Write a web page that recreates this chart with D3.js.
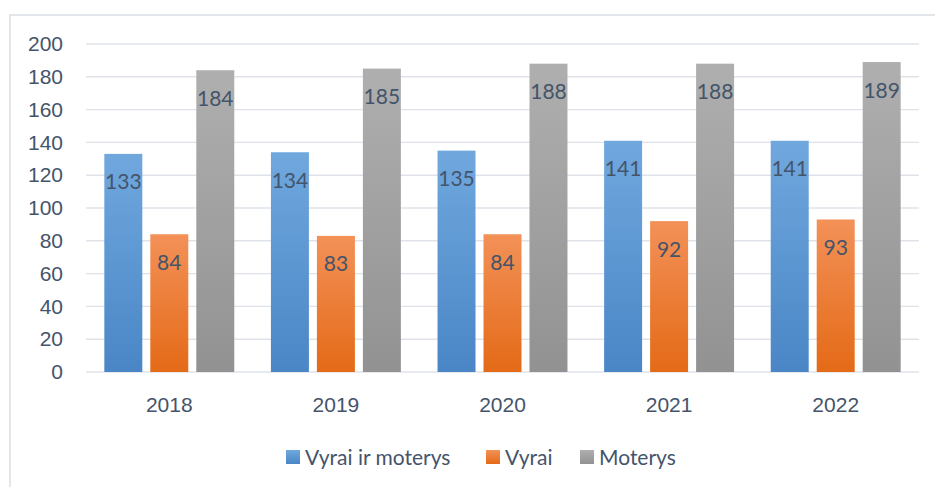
<!DOCTYPE html>
<html>
<head>
<meta charset="utf-8">
<script src="https://cdn.jsdelivr.net/npm/d3@7"></script>
<style>
  body { margin: 0; background: #fff; }
  svg { display: block; font-family: Lato, "Open Sans", sans-serif; }
</style>
</head>
<body>
<div id="chart"></div>
<script>
const years = ["2018", "2019", "2020", "2021", "2022"]
const seriesNames = ["Vyrai ir moterys", "Vyrai", "Moterys"]
const both = [133, 134, 135, 141, 141]
const men = [84, 83, 84, 92, 93]
const women = [184, 185, 188, 188, 189]
const yTicks = [0, 20, 40, 60, 80, 100, 120, 140, 160, 180, 200]

const seriesValues = [both, men, women]
const colors = [
  {top: "#70a8de", bottom: "#4a86c6"},
  {top: "#f39158", bottom: "#e46a17"},
  {top: "#afafaf", bottom: "#929292"}
]
const textColor = "#44546a"
const fontSize = "21px"

const width = 935, height = 487
const margin = {top: 44, left: 86, right: 16, bottom: 115}
const plotW = width - margin.left - margin.right
const plotH = height - margin.top - margin.bottom

const svg = d3.select("#chart").append("svg")
  .attr("width", width)
  .attr("height", height)

// gradients
const defs = svg.append("defs")
colors.forEach((c, i) => {
  const g = defs.append("linearGradient")
    .attr("id", "grad" + i)
    .attr("x1", "0%").attr("x2", "0%")
    .attr("y1", "0%").attr("y2", "100%")
  g.append("stop").attr("offset", "0%").attr("stop-color", c.top)
  g.append("stop").attr("offset", "100%").attr("stop-color", c.bottom)
})

// outer frame
svg.append("rect")
  .attr("x", 10).attr("y", 15)
  .attr("width", 940).attr("height", 490)
  .attr("fill", "none")
  .attr("stroke", "#d9dde4")
  .attr("stroke-width", 1.5)

const x0 = d3.scaleBand()
  .domain(years)
  .range([margin.left, margin.left + plotW])
  .paddingInner(0.22)
  .paddingOuter(0.11)

const x1 = d3.scaleBand()
  .domain(d3.range(seriesNames.length))
  .range([0, x0.bandwidth()])
  .paddingInner(0.174)

const y = d3.scaleLinear()
  .domain([0, 200])
  .range([margin.top + plotH, margin.top])

// gridlines
svg.append("g")
  .selectAll("line")
  .data(yTicks)
  .join("line")
    .attr("x1", margin.left)
    .attr("x2", margin.left + plotW)
    .attr("y1", d => y(d))
    .attr("y2", d => y(d))
    .attr("stroke", "#dfe3e9")
    .attr("stroke-width", 1.4)

// y axis labels
const yAxis = svg.append("g")
  .attr("transform", `translate(${margin.left},0)`)
  .call(d3.axisLeft(y).tickValues(yTicks).tickSize(0).tickPadding(23))
yAxis.select(".domain").remove()
yAxis.selectAll("text")
  .attr("fill", textColor)
  .style("font-size", fontSize)

// x axis labels
const xAxis = svg.append("g")
  .attr("transform", `translate(0,${margin.top + plotH})`)
  .call(d3.axisBottom(x0).tickSize(0).tickPadding(25))
xAxis.select(".domain").remove()
xAxis.selectAll("text")
  .attr("fill", textColor)
  .style("font-size", fontSize)

// bars
const groups = svg.append("g")
  .selectAll("g")
  .data(years)
  .join("g")
    .attr("transform", d => `translate(${x0(d)},0)`)

const cells = groups.selectAll("g")
  .data((d, yi) => seriesValues.map((vals, si) => ({si, value: vals[yi]})))
  .join("g")

cells.append("rect")
  .attr("x", d => x1(d.si))
  .attr("y", d => y(d.value))
  .attr("width", x1.bandwidth())
  .attr("height", d => y(0) - y(d.value))
  .attr("fill", d => `url(#grad${d.si})`)

cells.append("text")
  .attr("x", d => x1(d.si) + x1.bandwidth() / 2)
  .attr("y", d => y(d.value) + 35.5)
  .attr("text-anchor", "middle")
  .attr("fill", textColor)
  .style("font-size", fontSize)
  .text(d => d.value)

// legend
const legendX = [286, 486, 580]
const legend = svg.append("g")
  .selectAll("g")
  .data(seriesNames)
  .join("g")
    .attr("transform", (d, i) => `translate(${legendX[i]},450)`)

legend.append("rect")
  .attr("width", 14).attr("height", 14)
  .attr("fill", (d, i) => `url(#grad${i})`)

legend.append("text")
  .attr("x", 19)
  .attr("y", 15)
  .attr("fill", textColor)
  .style("font-size", fontSize)
  .text(d => d)
</script>
</body>
</html>
